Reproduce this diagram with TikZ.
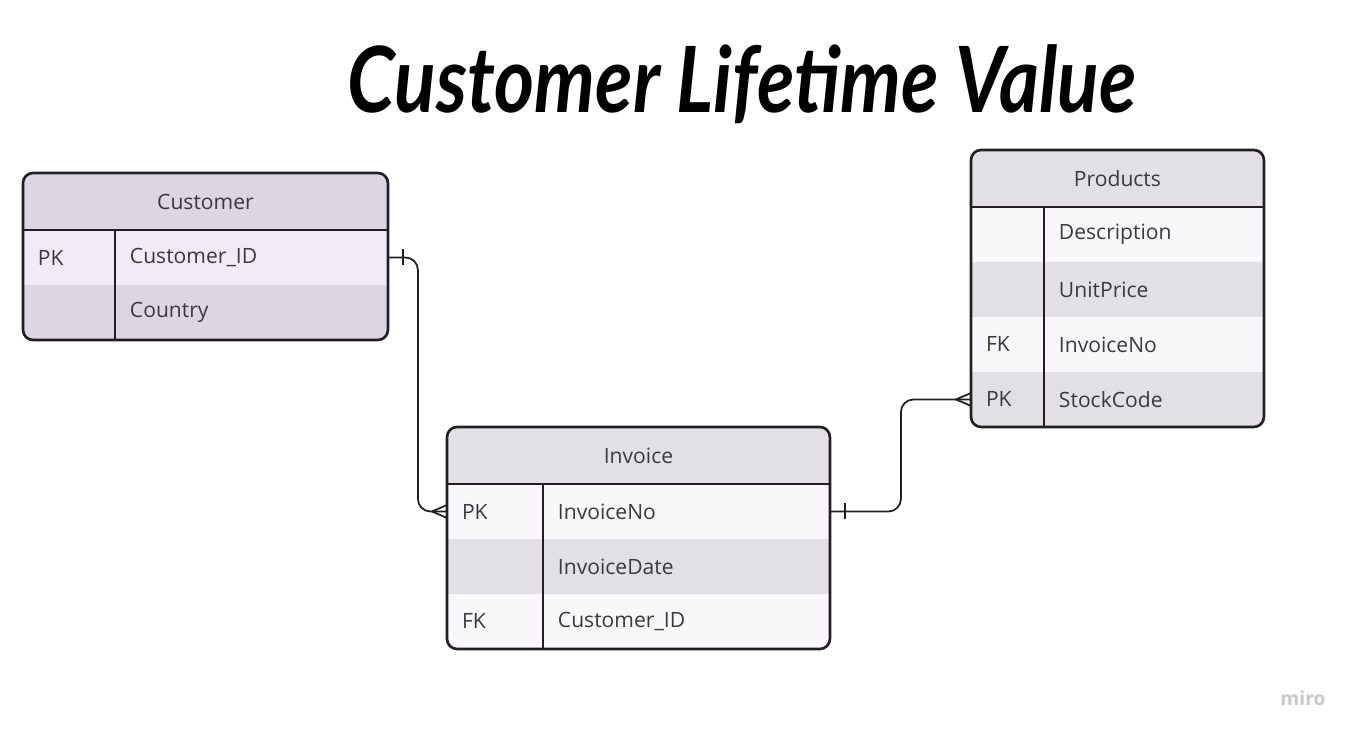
\documentclass[tikz,border=0pt]{standalone}
\usepackage{fontspec}
\setmainfont{Open Sans}
\newfontfamily\titlefont{Lato}
\usetikzlibrary{positioning}

\definecolor{edge}{HTML}{221E24}
\definecolor{txt}{HTML}{3B3840}
\definecolor{cusdark}{HTML}{DCD6E2}
\definecolor{cuslight}{HTML}{F1EBF7}
\definecolor{invdark}{HTML}{E3E0E5}
\definecolor{invlight}{HTML}{FAF7FB}
\definecolor{logo}{HTML}{C8C8CD}

\tikzset{
  head/.style={anchor=north west, minimum width=#1, minimum height=1.14cm, inner sep=0,
    outer sep=0, font=\fontsize{12}{14}\selectfont, text=txt},
  cell/.style={anchor=north west, text width=#1, minimum height=1.1cm, inner xsep=0.3cm,
    inner ysep=0, outer sep=0, align=left, font=\fontsize{12}{14}\selectfont, text=txt},
  frame/.style={draw=edge, line width=1.5pt, rounded corners=0.2cm},
  sep/.style={draw=edge, line width=1.3pt},
  rel/.style={draw=edge, line width=1pt, rounded corners=0.25cm},
  crow/.style={draw=edge, line width=1pt},
}

\begin{document}
\begin{tikzpicture}[x=0.02cm, y=-0.02cm]
  \useasboundingbox (0,0) rectangle (1356,737);

  % title
  \node (title) at (742,84) {\titlefont\bfseries\itshape\fontsize{52}{58}\selectfont
    \scalebox{0.84}[1]{Customer Lifetime Value}};

  % Customer
  \begin{scope}
    \clip[rounded corners=0.2cm] (23,173) rectangle (388,340);
    \node [head=7.3cm, fill=cusdark] (cust) at (23,173) {Customer};
    \node [cell=1.24cm, fill=cuslight] (ck1) at (cust.south west) {PK};
    \node [cell=4.86cm, fill=cuslight] (cf1) at (ck1.north east) {Customer\_ID};
    \node [cell=1.24cm, fill=cusdark] (ck2) at (ck1.south west) {};
    \node [cell=4.86cm, fill=cusdark] (cf2) at (ck2.north east) {Country};
  \end{scope}
  \draw [sep] (cust.south west) -- (cust.south east);
  \draw [sep] (ck1.north east) -- (ck2.south east);
  \draw [frame] (cust.north west) rectangle (cf2.south east);

  % Products
  \begin{scope}
    \clip[rounded corners=0.2cm] (971,150) rectangle (1264,427);
    \node [head=5.86cm, fill=invdark] (prod) at (971,150) {Products};
    \node [cell=0.86cm, fill=invlight] (pk1) at (prod.south west) {};
    \node [cell=3.8cm, fill=invlight] (pf1) at (pk1.north east) {Description};
    \node [cell=0.86cm, fill=invdark] (pk2) at (pk1.south west) {};
    \node [cell=3.8cm, fill=invdark] (pf2) at (pk2.north east) {UnitPrice};
    \node [cell=0.86cm, fill=invlight] (pk3) at (pk2.south west) {FK};
    \node [cell=3.8cm, fill=invlight] (pf3) at (pk3.north east) {InvoiceNo};
    \node [cell=0.86cm, fill=invdark] (pk4) at (pk3.south west) {PK};
    \node [cell=3.8cm, fill=invdark] (pf4) at (pk4.north east) {StockCode};
  \end{scope}
  \draw [sep] (prod.south west) -- (prod.south east);
  \draw [sep] (pk1.north east) -- (pk4.south east);
  \draw [frame] (prod.north west) rectangle (pf4.south east);

  % Invoice
  \begin{scope}
    \clip[rounded corners=0.2cm] (447,427) rectangle (830,649);
    \node [head=7.66cm, fill=invdark] (inv) at (447,427) {Invoice};
    \node [cell=1.32cm, fill=invlight] (ik1) at (inv.south west) {PK};
    \node [cell=5.14cm, fill=invlight] (if1) at (ik1.north east) {InvoiceNo};
    \node [cell=1.32cm, fill=invdark] (ik2) at (ik1.south west) {};
    \node [cell=5.14cm, fill=invdark] (if2) at (ik2.north east) {InvoiceDate};
    \node [cell=1.32cm, fill=invlight] (ik3) at (ik2.south west) {FK};
    \node [cell=5.14cm, fill=invlight] (if3) at (ik3.north east) {Customer\_ID};
  \end{scope}
  \draw [sep] (inv.south west) -- (inv.south east);
  \draw [sep] (ik1.north east) -- (ik3.south east);
  \draw [frame] (inv.north west) rectangle (if3.south east);

  % relations
  \draw [rel] (cf1.east) -- ++(30,0) |- (ik1.west);
  \draw [crow] ([xshift=0.3cm,yshift=0.16cm]cf1.east) -- ([xshift=0.3cm,yshift=-0.16cm]cf1.east);
  \draw [crow] ([yshift=0.13cm]ik1.west) -- ([xshift=-0.3cm]ik1.west) -- ([yshift=-0.13cm]ik1.west);

  \draw [rel] (if1.east) -- ++(71,0) |- (pk4.west);
  \draw [crow] ([xshift=0.3cm,yshift=0.16cm]if1.east) -- ([xshift=0.3cm,yshift=-0.16cm]if1.east);
  \draw [crow] ([yshift=0.13cm]pk4.west) -- ([xshift=-0.3cm]pk4.west) -- ([yshift=-0.13cm]pk4.west);

  % logo
  \node [text=logo, font=\bfseries\fontsize{11}{13}\selectfont] (miro) at (1303,698) {miro};
\end{tikzpicture}
\end{document}
